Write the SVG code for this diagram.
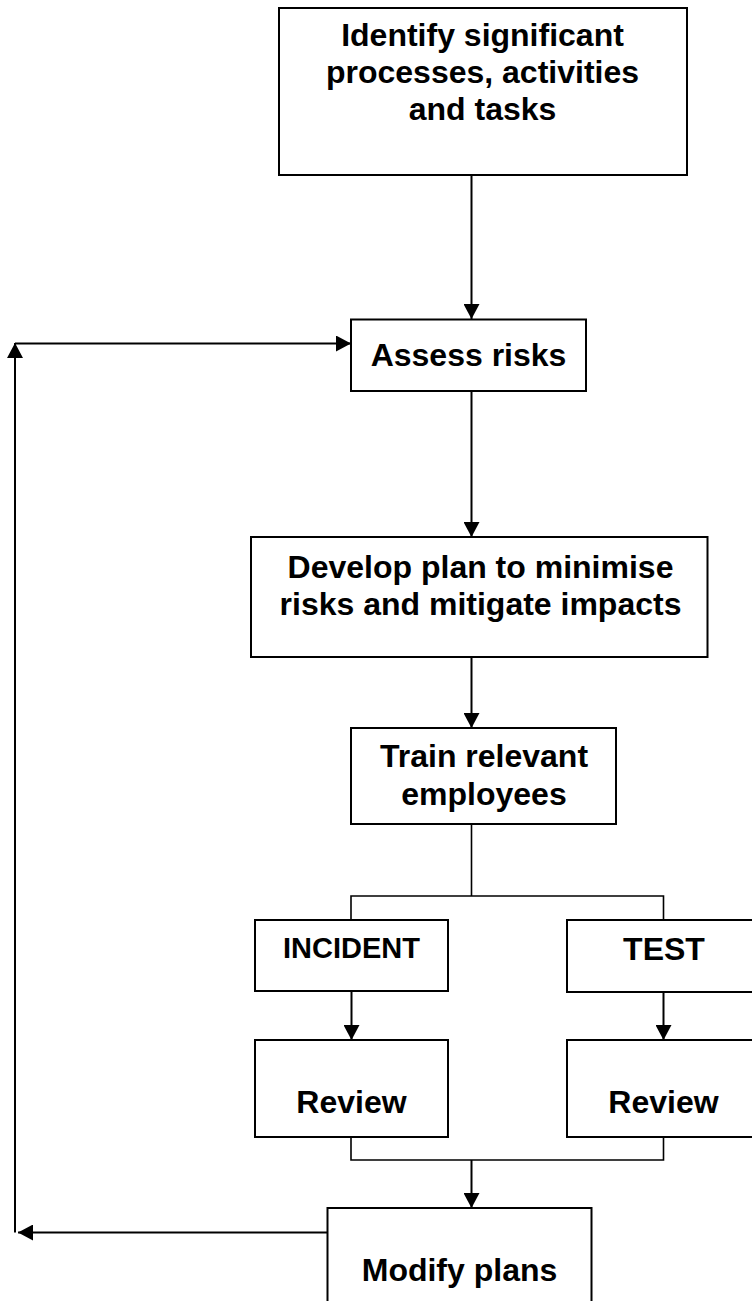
<svg xmlns="http://www.w3.org/2000/svg" width="752" height="1301" viewBox="0 0 752 1301">
  <style>
    .box { fill: #ffffff; stroke: #000000; stroke-width: 2; }
    .label { font-family: "Liberation Sans", Arial, sans-serif; font-weight: bold; font-size: 32px; fill: #000000; text-anchor: middle; }
    .small { font-size: 29px; }
    .wire { fill: none; stroke: #000000; stroke-width: 2; }
    .thin { fill: none; stroke: #000000; stroke-width: 1.6; }
  </style>
  <defs>
    <marker id="arrow" markerUnits="userSpaceOnUse" markerWidth="16" markerHeight="16" viewBox="0 0 16 16" refX="15" refY="8" orient="auto">
      <path d="M0,0 L15,8 L0,16 Z" fill="#000000"/>
    </marker>
  </defs>

  <rect width="752" height="1301" fill="#ffffff"/>

  <!-- connectors -->
  <g id="connectors">
    <line class="wire" x1="471.5" y1="175" x2="471.5" y2="319" marker-end="url(#arrow)"/>
    <line class="wire" x1="471.5" y1="391" x2="471.5" y2="537" marker-end="url(#arrow)"/>
    <line class="wire" x1="471.5" y1="657" x2="471.5" y2="728" marker-end="url(#arrow)"/>
    <path class="thin" d="M471.5,824 V896 M351,920 V896 H663.5 V920"/>
    <line class="wire" x1="351.5" y1="991" x2="351.5" y2="1040" marker-end="url(#arrow)"/>
    <line class="wire" x1="663.5" y1="992" x2="663.5" y2="1040" marker-end="url(#arrow)"/>
    <path class="thin" d="M351,1137 V1160 H663.5 V1137"/>
    <line class="wire" x1="471.5" y1="1160" x2="471.5" y2="1208" marker-end="url(#arrow)"/>
    <!-- feedback loop back to risk assessment -->
    <line class="wire" x1="328" y1="1232.5" x2="18" y2="1232.5" marker-end="url(#arrow)"/>
    <line class="wire" x1="15" y1="1232.5" x2="15" y2="343" marker-end="url(#arrow)"/>
    <line class="wire" x1="15" y1="343.5" x2="351" y2="343.5" marker-end="url(#arrow)"/>
  </g>

  <g id="identify">
    <rect class="box" x="279" y="8" width="408" height="167"/>
    <text class="label" x="482.5" y="46">Identify significant</text>
    <text class="label" x="482.5" y="83">processes, activities</text>
    <text class="label" x="482.5" y="120">and tasks</text>
  </g>

  <g id="assess">
    <rect class="box" x="351" y="319.5" width="235" height="71.5"/>
    <text class="label" x="468.5" y="366">Assess risks</text>
  </g>

  <g id="develop">
    <rect class="box" x="251" y="537" width="456.5" height="120"/>
    <text class="label" x="480.5" y="578">Develop plan to minimise</text>
    <text class="label" x="480.5" y="615">risks and mitigate impacts</text>
  </g>

  <g id="train">
    <rect class="box" x="351" y="728" width="265" height="96"/>
    <text class="label" x="484" y="767">Train relevant</text>
    <text class="label" x="484" y="805">employees</text>
  </g>

  <g id="incident">
    <rect class="box" x="255" y="920" width="193" height="71"/>
    <text class="label small" x="351.5" y="958">INCIDENT</text>
  </g>

  <g id="test">
    <rect class="box" x="567" y="920" width="200" height="72"/>
    <text class="label" x="664" y="960">TEST</text>
  </g>

  <g id="review-incident">
    <rect class="box" x="255" y="1040" width="193" height="97"/>
    <text class="label" x="351.5" y="1113">Review</text>
  </g>

  <g id="review-test">
    <rect class="box" x="567" y="1040" width="200" height="97"/>
    <text class="label" x="663.5" y="1113">Review</text>
  </g>

  <g id="modify">
    <rect class="box" x="327.5" y="1208" width="264" height="110"/>
    <text class="label" x="459.5" y="1281">Modify plans</text>
  </g>
</svg>
